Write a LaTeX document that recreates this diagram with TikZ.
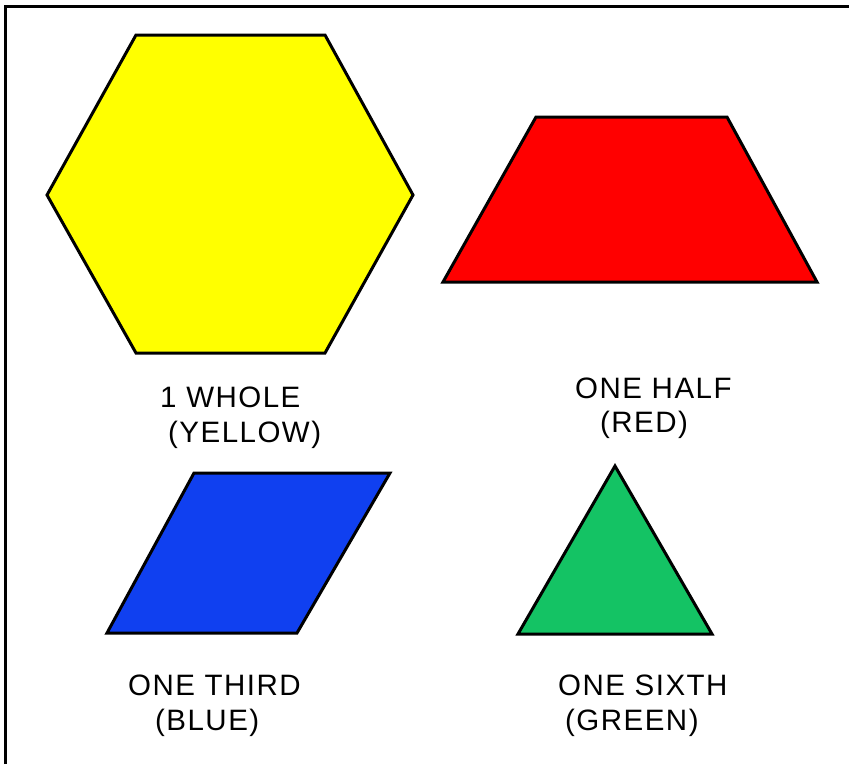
\documentclass[tikz,border=0pt]{standalone}
\usepackage{fontspec}
\setmainfont{Liberation Sans}
\newfontfamily\lblfont{Liberation Sans}[LetterSpace=5]
\definecolor{hexyellow}{RGB}{255,255,0}
\definecolor{trapred}{RGB}{255,0,0}
\definecolor{rhombblue}{RGB}{16,64,240}
\definecolor{trigreen}{RGB}{20,195,100}
\begin{document}
\begin{tikzpicture}[x=1pt,y=-1pt,
  piece/.style={draw=black,line width=3pt,line join=miter},
  lbl/.style={anchor=base west,inner sep=0pt,font=\lblfont\fontsize{29.5}{34}\selectfont}]
\useasboundingbox (0,0) rectangle (849,764);
\fill[white] (0,0) rectangle (849,764);
% frame
\draw[line width=3pt] (5.5,764) -- (5.5,6.5) -- (849,6.5);
% hexagon
\draw[piece,fill=hexyellow] (136,35) -- (325,35) -- (413,195) -- (325,353) -- (136,353) -- (47,195) -- cycle;
% trapezoid
\draw[piece,fill=trapred] (536,117) -- (727,117) -- (817,282) -- (443,282) -- cycle;
% parallelogram
\draw[piece,fill=rhombblue] (194,473) -- (390,473) -- (297,633) -- (107,633) -- cycle;
% triangle
\draw[piece,fill=trigreen] (615,466) -- (712,634) -- (518,634) -- cycle;
% labels
\node[lbl] (w1) at (160,407) {1 WHOLE};
\node[lbl] (w2) at (168,442) {(YELLOW)};
\node[lbl] (h1) at (575,398) {ONE HALF};
\node[lbl] (h2) at (600,432) {(RED)};
\node[lbl] (t1) at (128,695) {ONE THIRD};
\node[lbl] (t2) at (155,730) {(BLUE)};
\node[lbl] (s1) at (558,695) {ONE SIXTH};
\node[lbl] (s2) at (565,730) {(GREEN)};
\end{tikzpicture}
\end{document}
